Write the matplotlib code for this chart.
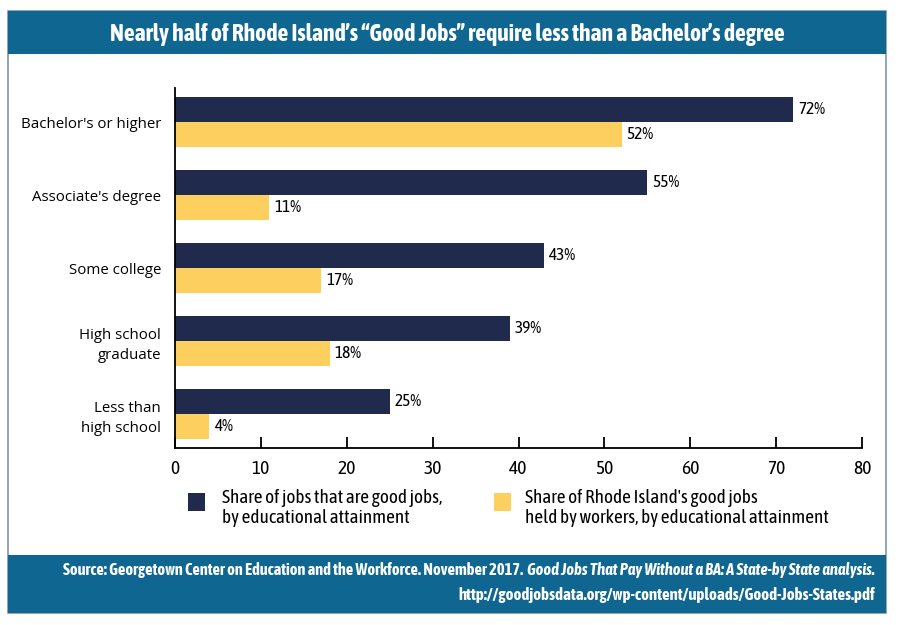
import numpy as np
import matplotlib as mpl
mpl.use("Agg")
import matplotlib.pyplot as plt
from matplotlib.patches import Rectangle

categories = ["Bachelor's or higher", "Associate's degree", "Some college",
              "High school\ngraduate", "Less than\nhigh school"]
good_jobs_share = [72, 55, 43, 39, 25]
ri_good_jobs_share = [52, 11, 17, 18, 4]
x_ticks = [0, 10, 20, 30, 40, 50, 60, 70, 80]

NAVY = "#1f2a4d"
YELLOW = "#fccf5f"
TEAL = "#0f6690"
COND = ["Asap Condensed", "DejaVu Sans"]
BODY = ["Open Sans", "DejaVu Sans"]

W, H = 898, 625
fig = plt.figure(figsize=(W / 100, H / 100), dpi=100)


def fx(px):
    return px / W


def fy(py):
    return 1 - py / H


def frect(x0, y0, x1, y1, **kw):
    fig.patches.append(Rectangle((fx(x0), fy(y1)), fx(x1) - fx(x0), fy(y0) - fy(y1),
                                 transform=fig.transFigure, **kw))


# frame, title bar and footer bar
frect(8, 11, 886, 613, facecolor="white", edgecolor="#7d97ad", linewidth=1.2, zorder=-5)
frect(8, 11, 886, 54, facecolor=TEAL, edgecolor="none", zorder=-4)
frect(8, 555, 886, 613, facecolor=TEAL, edgecolor="none", zorder=-4)

fig.text(fx(447), fy(34), "Nearly half of Rhode Island\u2019s \u201cGood Jobs\u201d require less than a Bachelor\u2019s degree",
         ha="center", va="center", color="white", fontsize=17, fontweight="bold", family=COND)

ax = fig.add_axes([fx(175), fy(448), fx(862) - fx(175), fy(88) - fy(448)])
y = np.arange(len(categories))
h = 0.345
ax.barh(y - h / 2, good_jobs_share, height=h, color=NAVY)
ax.barh(y + h / 2, ri_good_jobs_share, height=h, color=YELLOW)
for yi, v in zip(y - h / 2, good_jobs_share):
    ax.text(v + 0.6, yi, f"{v}%", va="center", ha="left", fontsize=12.5, family=COND, color="black")
for yi, v in zip(y + h / 2, ri_good_jobs_share):
    ax.text(v + 0.6, yi, f"{v}%", va="center", ha="left", fontsize=12.5, family=COND, color="black")

ax.set_xlim(0, 80)
ax.set_ylim(4.466, -0.466)
ax.set_xticks(x_ticks)
ax.set_xticklabels([str(t) for t in x_ticks], fontsize=14, family=COND)
ax.set_yticks(y)
ax.set_yticklabels(categories, fontsize=10.8, family=BODY, linespacing=1.45)
ax.tick_params(axis="x", direction="in", length=8, width=1.3, pad=9)
ax.tick_params(axis="y", length=0, pad=10)
for s in ["top", "right"]:
    ax.spines[s].set_visible(False)
for s in ["left", "bottom"]:
    ax.spines[s].set_linewidth(1.3)

# legend
frect(188, 493, 205, 511, facecolor=NAVY, edgecolor="none")
frect(494, 493, 511, 511, facecolor=YELLOW, edgecolor="none")
fig.text(fx(222), fy(508), "Share of jobs that are good jobs,\nby educational attainment",
         ha="left", va="center", fontsize=13.8, family=COND, linespacing=1.1)
fig.text(fx(525), fy(508), "Share of Rhode Island's good jobs\nheld by workers, by educational attainment",
         ha="left", va="center", fontsize=13.8, family=COND, linespacing=1.1)

# footer: normal part followed by italic title, right aligned
renderer = fig.canvas.get_renderer()
it = fig.text(fx(875), fy(570), "Good Jobs That Pay Without a BA: A State-by State analysis.",
              ha="right", va="center", color="white", fontsize=11.8, fontweight="bold",
              style="italic", family=COND)
bb = it.get_window_extent(renderer)
fig.text(bb.x0 / W - fx(4), fy(570),
         "Source: Georgetown Center on Education and the Workforce. November 2017.",
         ha="right", va="center", color="white", fontsize=11.8, fontweight="bold", family=COND)
fig.text(fx(875), fy(595), "http://goodjobsdata.org/wp-content/uploads/Good-Jobs-States.pdf",
         ha="right", va="center", color="white", fontsize=12.2, fontweight="bold", family=COND)

fig.savefig("out.png", dpi=100)
